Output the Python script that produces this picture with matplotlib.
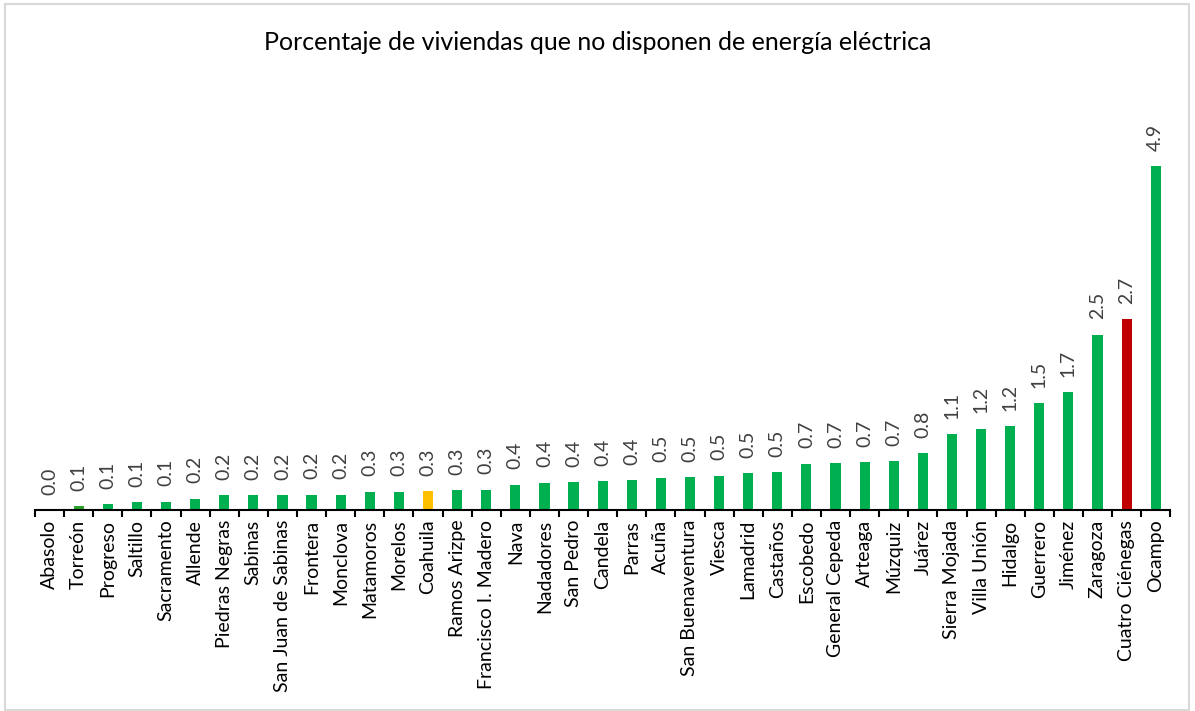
import matplotlib.pyplot as plt
from matplotlib.patches import Rectangle
import numpy as np

municipios = ['Abasolo', 'Torreón', 'Progreso', 'Saltillo', 'Sacramento', 'Allende',
              'Piedras Negras', 'Sabinas', 'San Juan de Sabinas', 'Frontera', 'Monclova',
              'Matamoros', 'Morelos', 'Coahuila', 'Ramos Arizpe', 'Francisco I. Madero',
              'Nava', 'Nadadores', 'San Pedro', 'Candela', 'Parras', 'Acuña',
              'San Buenaventura', 'Viesca', 'Lamadrid', 'Castaños', 'Escobedo',
              'General Cepeda', 'Arteaga', 'Múzquiz', 'Juárez', 'Sierra Mojada',
              'Villa Unión', 'Hidalgo', 'Guerrero', 'Jiménez', 'Zaragoza',
              'Cuatro Ciénegas', 'Ocampo']
porcentaje = [0.0, 0.06, 0.08, 0.11, 0.12, 0.16,
              0.21, 0.21, 0.21, 0.22, 0.22,
              0.26, 0.26, 0.27, 0.28, 0.29,
              0.36, 0.39, 0.40, 0.41, 0.43, 0.46,
              0.47, 0.49, 0.53, 0.54, 0.66,
              0.67, 0.68, 0.70, 0.81, 1.08,
              1.16, 1.20, 1.52, 1.68, 2.50,
              2.72, 4.90]

GREEN = '#00B050'
colores = [GREEN] * len(municipios)
colores[municipios.index('Torreón')] = '#2CA02C'
colores[municipios.index('Coahuila')] = '#FFC000'
colores[municipios.index('Cuatro Ciénegas')] = '#C00000'

plt.rcParams['font.family'] = ['Lato', 'DejaVu Sans']

fig = plt.figure(figsize=(11.95, 7.11), dpi=100)
fig.patches.append(Rectangle((0.004, 0.002), 0.991, 0.993, transform=fig.transFigure,
                             fill=False, edgecolor='#d9d9d9', linewidth=1.5))
ax = fig.add_axes([0.0293, 0.2827, 0.95, 0.592])

x = np.arange(len(municipios))
bars = ax.bar(x, porcentaje, width=0.35, color=colores)

for xi, v in zip(x, porcentaje):
    ax.annotate('{:.1f}'.format(v), (xi, v), xytext=(0, 11), textcoords='offset points',
                rotation=90, ha='center', va='bottom', fontsize=14, color='#404040')

ax.set_xlim(-0.5, len(municipios) - 0.5)
ax.set_ylim(0, 6)
for side in ['left', 'right', 'top']:
    ax.spines[side].set_visible(False)
ax.spines['bottom'].set_linewidth(1.5)
ax.set_yticks([])

ax.set_xticks(x)
ax.set_xticklabels(municipios, rotation=90, fontsize=14)
ax.tick_params(axis='x', which='major', length=0, pad=7)
ax.set_xticks(np.arange(-0.5, len(municipios)), minor=True)
ax.tick_params(axis='x', which='minor', length=5, width=1.5, direction='out')

fig.text(0.5, 0.94, 'Porcentaje de viviendas que no disponen de energía eléctrica',
         ha='center', va='center', fontsize=18)

fig.savefig('out.png', dpi=100)
